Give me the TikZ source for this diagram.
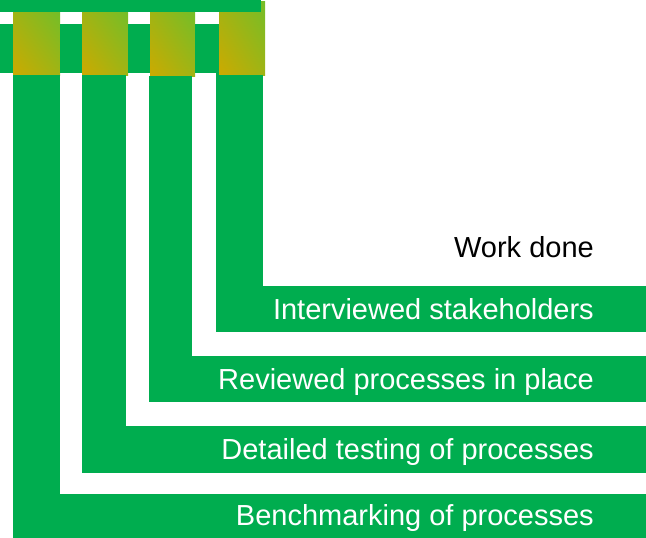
\documentclass[tikz,border=0pt]{standalone}
\usepackage{fontspec}
\setmainfont{Liberation Sans}
\usepackage{tikz}
\usetikzlibrary{shadings}

\definecolor{barGreen}{RGB}{0,173,79}
\definecolor{goldTone}{RGB}{204,170,0}
\definecolor{leafTone}{RGB}{116,190,40}
\definecolor{midTone}{RGB}{160,180,20}

\tikzset{
  bar/.style={fill=barGreen, draw=none},
  tile/.style={lower left=goldTone, upper right=leafTone, upper left=midTone, lower right=midTone},
  lbl/.style={anchor=base east, inner sep=0pt, font=\fontsize{29}{30}\selectfont},
}

\begin{document}
\begin{tikzpicture}[x=1pt, y=-1pt]
  \useasboundingbox (0,0) rectangle (646,538);
  % gradient tiles
  \shade [tile] (13,12) rectangle (60,75);
  \shade [tile] (82,12) rectangle (128,75);
  \shade [tile] (150,12) rectangle (195,76);
  \shade [tile] (219,1) rectangle (265,75);
  % top strips
  \fill [bar] (0,0) rectangle (261,12);
  \fill [bar] (0,24) rectangle (13,73);
  \fill [bar] (60,24) rectangle (82,73);
  \fill [bar] (128,24) rectangle (150,73);
  \fill [bar] (195,24) rectangle (219,73);
  \fill [bar] (216,24) rectangle (219,75);
  % legs down to the bands
  \fill [bar] (13,75) rectangle (60,538);
  \fill [bar] (82,75) rectangle (126,473);
  \fill [bar] (149,76) rectangle (192,402);
  \fill [bar] (216,75) rectangle (263,332);
  % bands
  \fill [bar] (216,286) rectangle (646,332);
  \fill [bar] (149,356) rectangle (646,402);
  \fill [bar] (82,426) rectangle (646,473);
  \fill [bar] (13,494) rectangle (646,538);
  % labels
  \path (594,257) node[lbl] (head) {Work done}
        (594,319) node[lbl, white] (interv) {Interviewed stakeholders}
        (594,389) node[lbl, white] (review) {Reviewed processes in place}
        (594,459) node[lbl, white] (detail) {Detailed testing of processes}
        (594,525) node[lbl, white] (bench) {Benchmarking of processes};
\end{tikzpicture}
\end{document}
